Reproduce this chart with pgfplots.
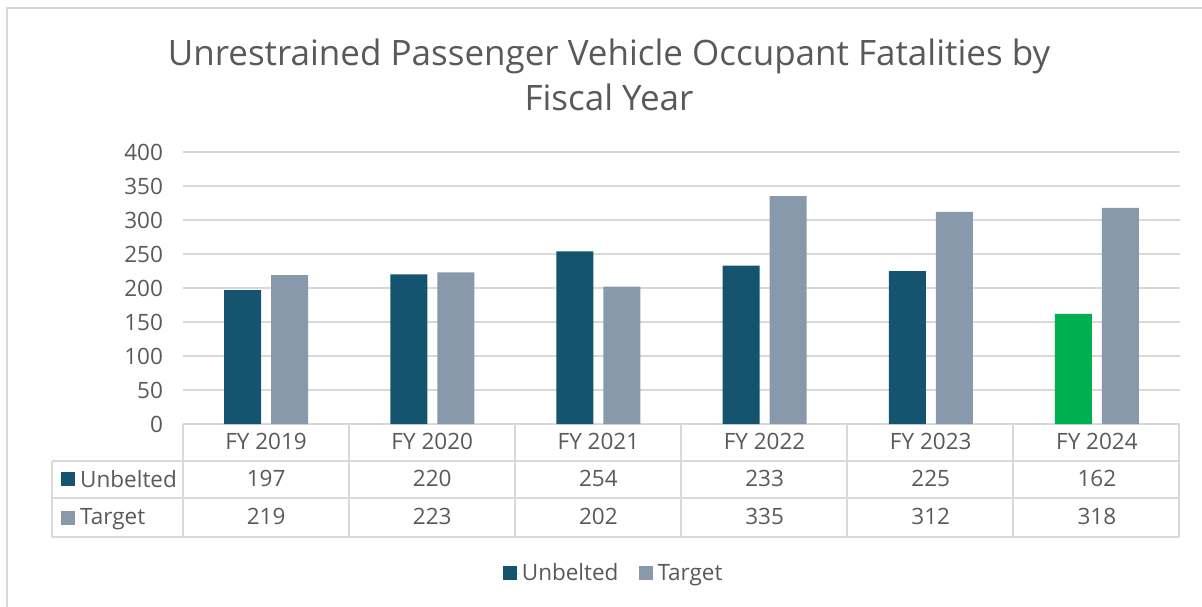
\documentclass[border=0pt]{standalone}
\usepackage{fontspec}
\setmainfont{Open Sans}
\usepackage{pgfplots}
\usepackage{pgfplotstable}
\pgfplotsset{compat=1.18}

\definecolor{unb}{HTML}{14546F}
\definecolor{tgt}{HTML}{8799AA}
\definecolor{hilite}{HTML}{00B050}
\definecolor{txtgray}{HTML}{595959}
\definecolor{gridgray}{HTML}{D9D9D9}

\pgfplotstableread{
x unb tgt
0 197 219
1 220 223
2 254 202
3 233 335
4 225 312
5 162 318
}\data

\newcommand{\lbl}{\fontsize{22.5}{25}\selectfont}

\begin{document}
\begin{tikzpicture}[x=1pt,y=1pt]
\path[use as bounding box] (0,0) rectangle (1202,606);
\draw[gridgray, line width=1.5pt] (7,-10) rectangle (1215,598);

\node[align=center, text=txtgray, font=\fontsize{35}{45}\selectfont] at (609,531)
  {Unrestrained Passenger Vehicle Occupant Fatalities by\\Fiscal Year};

\begin{axis}[
  scale only axis, width=997pt, height=272pt,
  at={(183pt,182pt)}, anchor=south west,
  xmin=-0.5, xmax=5.5, ymin=0, ymax=400,
  ytick={0,50,...,400},
  xtick={0,...,5},
  xticklabels={FY 2019,FY 2020,FY 2021,FY 2022,FY 2023,FY 2024},
  axis line style={draw=none},
  ymajorgrids, grid style={gridgray, line width=1.5pt},
  major tick length=0pt,
  tick label style={font=\lbl, text=txtgray},
  yticklabel style={anchor=east, xshift=-16.5pt},
  xticklabel style={anchor=base, yshift=-25pt},
  /pgf/number format/assume math mode=true,
  clip=false,
  legend style={at={(0.432,-0.548)}, anchor=center, draw=none, fill=none,
    legend columns=2, font=\lbl, text=txtgray,
    /tikz/every even column/.append style={column sep=18pt}},
  legend image code/.code={\fill[#1] (0pt,-7pt) rectangle (14pt,7pt);
    \path (0pt,0pt) -- (17pt,0pt);},
]
\addplot[ybar, bar width=37pt, bar shift=-23.5pt, fill=unb, draw=none]
  table[x=x, y=unb] {\data};
\addlegendentry{Unbelted}
\addplot[ybar, bar width=37pt, bar shift=23.5pt, fill=tgt, draw=none]
  table[x=x, y=tgt] {\data};
\addlegendentry{Target}
% FY 2024 unbelted bar is highlighted in green
\addplot[ybar, bar width=37pt, bar shift=-23.5pt, fill=hilite, draw=none, forget plot]
  table[x=x, y=unb, restrict x to domain=4.5:5.5] {\data};
% data table rows under the axis
\addplot[draw=none, mark=none, forget plot, nodes near coords, point meta=explicit,
  every node near coord/.append style={anchor=base, font=\lbl, text=txtgray}]
  table[x=x, y expr=-92.6, meta=unb] {\data};
\addplot[draw=none, mark=none, forget plot, nodes near coords, point meta=explicit,
  every node near coord/.append style={anchor=base, font=\lbl, text=txtgray}]
  table[x=x, y expr=-147.1, meta=tgt] {\data};
\end{axis}

% table grid
\begin{scope}[gridgray, line width=1.5pt]
\foreach \xx in {183,349,515,681,847,1013,1179} \draw (\xx,182) -- (\xx,69);
\draw (52,145) -- (52,69);
\foreach \yy in {145,108,69} \draw (52,\yy) -- (1179,\yy);
\end{scope}
\fill[unb] (61,120) rectangle (75,134);
\fill[tgt] (61,81) rectangle (75,95);
\node[anchor=base west, inner sep=0pt, font=\lbl, text=txtgray] at (80,119) {Unbelted};
\node[anchor=base west, inner sep=0pt, font=\lbl, text=txtgray] at (80,82) {Target};
\end{tikzpicture}
\end{document}
